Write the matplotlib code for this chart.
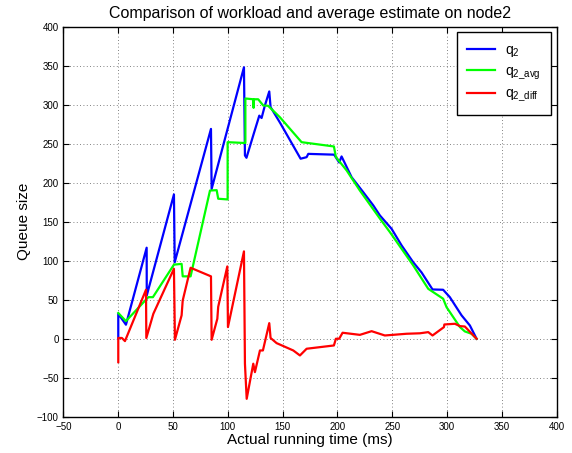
import numpy as np
import matplotlib
matplotlib.use("Agg")
import matplotlib.pyplot as plt

# q2 (blue): actual queue size
q2_t = [0, 0, 7, 25.9, 26, 50.8, 51.5, 84.6, 85.2, 114.7, 115.6, 117, 123.8,
        128.7, 130.8, 133.8, 137.8, 139, 147.6, 166.4, 171.9, 173.4, 197,
        201.6, 203.8, 213, 223.5, 232.7, 238.8, 249.4, 258.6, 269.2, 276.8,
        286.8, 296.5, 302.6, 313.3, 320.9, 327]
q2_val = [0, 32, 18, 116.7, 55.5, 185, 98, 269, 192, 348, 235, 232, 263.6,
          286, 283, 299, 317, 297, 277, 230.8, 232.8, 237, 236,
          226, 233.7, 207, 188, 171, 158, 141, 119.6, 98, 85,
          63.2, 62.8, 53.3, 30, 17, 0]

# q2_avg (green): average estimate
avg_t = [0, 7, 27.4, 31.6, 50.8, 57.8, 58.8, 66, 83.7, 89.8, 91.2, 99.8,
         99.8, 114.7, 116, 116, 123.2, 123.5, 123.8, 127.7, 132.3, 136.8,
         147.5, 167.3, 196.8, 198.6, 208.4, 220.5, 238.8, 247.9, 269.2,
         282.9, 296.5, 299.6, 311.8, 316.3, 322.4, 327]
avg_val = [33, 22.6, 53.3, 53.3, 95, 96, 80, 80, 190, 190.5, 179.5, 178.6,
           252, 251, 251, 308, 307, 296, 307, 307, 299, 298.6,
           284, 252, 246.5, 233, 215.8, 190, 154, 136.7, 94,
           64, 51.3, 40.5, 15, 9.4, 6.4, 0]

# q2_diff (red): difference
diff_t = [0, 0, 3.3, 6.1, 25.3, 25.6, 32, 50.8, 51.7, 57.8, 58.8, 66, 84.6,
          85.2, 90.4, 91.2, 99.5, 100.1, 114.7, 115.6, 117.2, 123.2, 124.7,
          129.3, 132, 137.8, 139, 144.5, 159.7, 165.8, 171.9, 196.8, 198.6,
          201.6, 204.7, 220.5, 231.2, 243.3, 263.1, 275.3, 282.9, 286.8,
          297.2, 297.6, 307.2, 311.8, 316.3, 327]
diff_val = [-30, 1, 1, -3, 62.8, 1, 32, 89.7, -1.3, 30, 49, 91, 80,
            -1.3, 25.6, 41, 92.7, 15, 112, -32, -77, -32, -42.8,
            -15, -15, 20, 1, -5.6, -15, -21.4, -12.8, -8.6, 0,
            0, 7.7, 5, 9.7, 4.2, 6.4, 7, 8.5, 4.2,
            14.9, 18.3, 19.2, 16.2, 15.7, 0]

plt.rcParams["font.family"] = ["Liberation Sans", "DejaVu Sans"]
plt.rcParams["mathtext.fontset"] = "custom"
plt.rcParams["mathtext.rm"] = "Liberation Sans"
plt.rcParams["mathtext.it"] = "Liberation Sans"

fig = plt.figure(figsize=(5.72, 4.53), dpi=100)
ax = fig.add_axes([0.111, 0.080, 0.862, 0.861])

ax.plot(q2_t, q2_val, color=(0, 0, 1), lw=1.6, label=r"q$_2$")
ax.plot(avg_t, avg_val, color=(0, 1, 0), lw=1.6, label=r"q$_{2\_avg}$")
ax.plot(diff_t, diff_val, color=(1, 0, 0), lw=1.6, label=r"q$_{2\_diff}$")

ax.set_xlim(-50, 400)
ax.set_ylim(-100, 400)
ax.set_xticks(np.arange(-50, 401, 50))
ax.set_yticks(np.arange(-100, 401, 50))
ax.tick_params(direction="in", top=True, right=True, labelsize=7, length=4)
ax.grid(True, linestyle=(0, (1, 3)), color="0.35", lw=0.6)
for s in ax.spines.values():
    s.set_linewidth(1.0)

ax.set_title("Comparison of workload and average estimate on node2", fontsize=11.5)
ax.set_xlabel("Actual running time (ms)", fontsize=11, labelpad=1)
ax.set_ylabel("Queue size", fontsize=11, labelpad=4)

leg = ax.legend(loc="upper right", fontsize=10, fancybox=False, framealpha=1,
                edgecolor="black", handlelength=2.0, handletextpad=0.7,
                labelspacing=0.4, borderpad=0.75, borderaxespad=0.4)
leg.get_frame().set_linewidth(1.0)

fig.savefig("out.png", dpi=100)
